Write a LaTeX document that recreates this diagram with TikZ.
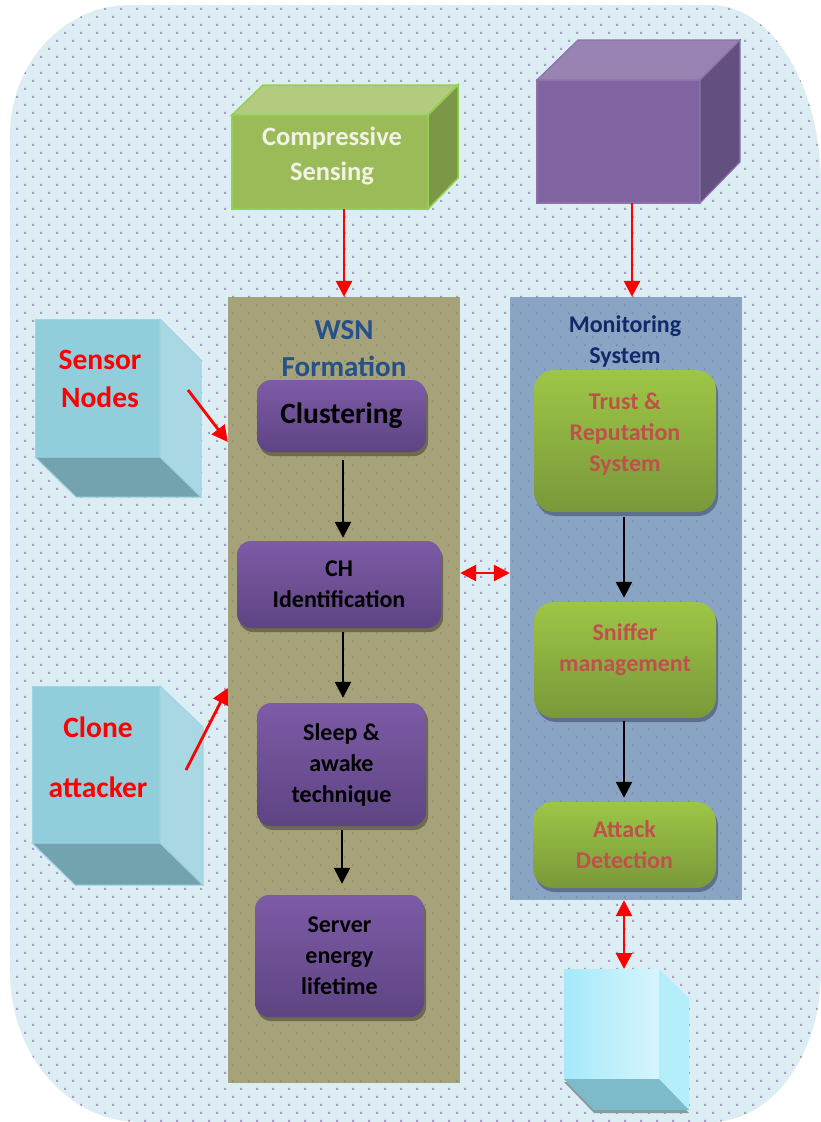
\documentclass[tikz,border=0pt]{standalone}
\usepackage{fontspec}
\setmainfont{Carlito}
\usetikzlibrary{arrows.meta,patterns,shadows}

\pgfdeclarepatternformonly{bgdots}{\pgfqpoint{-1pt}{-1pt}}{\pgfqpoint{17pt}{17pt}}{\pgfqpoint{16pt}{16pt}}{%
  \pgfpathrectangle{\pgfqpoint{0pt}{0pt}}{\pgfqpoint{2pt}{2pt}}%
  \pgfpathrectangle{\pgfqpoint{8pt}{8pt}}{\pgfqpoint{2pt}{2pt}}%
  \pgfusepath{fill}}
\pgfdeclarepatternformonly{smalldots}{\pgfqpoint{-1pt}{-1pt}}{\pgfqpoint{17pt}{17pt}}{\pgfqpoint{16pt}{16pt}}{%
  \pgfpathrectangle{\pgfqpoint{0pt}{0pt}}{\pgfqpoint{1.5pt}{1.5pt}}%
  \pgfpathrectangle{\pgfqpoint{8pt}{8pt}}{\pgfqpoint{1.5pt}{1.5pt}}%
  \pgfusepath{fill}}

\definecolor{bgc}{HTML}{DCEEF4}
\definecolor{bgdot}{HTML}{A99CC6}
\definecolor{khaki}{HTML}{A6A27A}
\definecolor{khakidot}{HTML}{8E8B68}
\definecolor{bluepanel}{HTML}{8AA5C3}
\definecolor{bluedot}{HTML}{7A88AE}
\definecolor{ptop}{HTML}{7D5BA6}
\definecolor{pbot}{HTML}{5E4483}
\definecolor{pshadow}{HTML}{6D6A4E}
\definecolor{gtop}{HTML}{9DC646}
\definecolor{gbot}{HTML}{7A983A}
\definecolor{gshadow}{HTML}{5C6F8E}
\definecolor{gtext}{HTML}{C0504D}
\definecolor{wsnblue}{HTML}{25508A}
\definecolor{monblue}{HTML}{0F2A68}
\definecolor{csfront}{HTML}{9BBB59}
\definecolor{cstop}{HTML}{B2CB7F}
\definecolor{csside}{HTML}{7D9748}
\definecolor{csedge}{HTML}{92D050}
\definecolor{cstext}{HTML}{F2F2E6}
\definecolor{pcfront}{HTML}{8064A2}
\definecolor{pctop}{HTML}{9983B3}
\definecolor{pcside}{HTML}{64507F}
\definecolor{pcedge}{HTML}{8B72AC}
\definecolor{snfront}{HTML}{92CDDC}
\definecolor{snside}{HTML}{A9D7E3}
\definecolor{snbot}{HTML}{72A3AF}
\definecolor{snedge}{HTML}{A0D4E2}
\definecolor{bcleft}{HTML}{A6E9FA}
\definecolor{bcright}{HTML}{D6F5FC}
\definecolor{bcside}{HTML}{B4EEFB}
\definecolor{bcbot}{HTML}{7EBBCA}
\definecolor{bcshadow}{HTML}{8A9A9E}
\definecolor{arrred}{HTML}{FF0000}

\tikzset{
  panelbox/.style={draw=none, inner sep=0pt},
  purplebox/.style={rounded corners=14pt, top color=ptop, bottom color=pbot, draw=none,
    inner sep=0pt, align=center, text=black,
    font=\bfseries\fontsize{24}{31}\selectfont,
    general shadow={fill=pshadow, shadow xshift=2pt, shadow yshift=-4pt}},
  greenbox/.style={rounded corners=20pt, top color=gtop, bottom color=gbot, draw=none,
    inner sep=0pt, align=center, text=gtext,
    font=\bfseries\fontsize{24}{31}\selectfont,
    general shadow={fill=gshadow, shadow xshift=2pt, shadow yshift=-4pt}},
  greentext/.style={align=center, text=gtext, inner sep=0pt,
    font=\bfseries\fontsize{24}{31}\selectfont},
  cubetext/.style={align=center, inner sep=0pt},
  blackarrow/.style={-{Triangle[width=16pt,length=16pt]}, line width=2.4pt, black},
  redarrow/.style={-{Triangle[width=16pt,length=16pt]}, line width=2.8pt, arrred},
  reddouble/.style={{Triangle[width=16pt,length=16pt]}-{Triangle[width=16pt,length=16pt]}, line width=2.8pt, arrred},
}

\begin{document}
\begin{tikzpicture}[x=1pt,y=-1pt]
\useasboundingbox (0,0) rectangle (821,1122);

% background
\path[preaction={fill=bgc}, pattern=bgdots, pattern color=bgdot]
  (10,135) arc[start angle=180, end angle=270, x radius=120, y radius=130]
  -- (711,5) arc[start angle=270, end angle=360, x radius=110, y radius=180]
  -- (821,972) arc[start angle=0, end angle=90, x radius=110, y radius=150]
  -- (140,1122) arc[start angle=90, end angle=180, x radius=130, y radius=150]
  -- cycle;

% panels
\node[panelbox, preaction={fill=khaki}, pattern=smalldots, pattern color=khakidot,
      minimum width=232pt, minimum height=786pt] (wsn) at (344,690) {};
\node[panelbox, preaction={fill=bluepanel}, pattern=smalldots, pattern color=bluedot,
      minimum width=232pt, minimum height=603pt] (mon) at (626,598.5) {};

\node[cubetext, text=wsnblue, font=\bfseries\fontsize{29}{37}\selectfont] (wsnt) at (344,349) {WSN\\Formation};
\node[cubetext, text=monblue, font=\bfseries\fontsize{24}{31}\selectfont] (mont) at (625,341.5) {Monitoring\\System};

% Compressive sensing cube
\filldraw[fill=csfront, draw=csedge, line width=1.5pt] (232,115) -- (428,115) -- (428,209) -- (232,209) -- cycle;
\filldraw[fill=cstop, draw=csedge, line width=1.5pt] (232,115) -- (263,85) -- (458,85) -- (428,115) -- cycle;
\filldraw[fill=csside, draw=csedge, line width=1.5pt] (428,115) -- (458,85) -- (458,178) -- (428,209) -- cycle;
\node[cubetext, text=cstext, font=\bfseries\fontsize{26.5}{35}\selectfont] (cst) at (332,156) {Compressive\\Sensing};
\coordinate (csb) at (344,209);

% purple cube
\filldraw[fill=pcfront, draw=pcedge, line width=1.2pt] (537,80) -- (700,80) -- (700,203) -- (537,203) -- cycle;
\filldraw[fill=pctop, draw=pcedge, line width=1.2pt] (537,80) -- (578,40) -- (740,40) -- (700,80) -- cycle;
\filldraw[fill=pcside, draw=pcedge, line width=1.2pt] (700,80) -- (740,40) -- (740,162) -- (700,203) -- cycle;
\coordinate (pcb) at (632,203);

% sensor nodes cube
\filldraw[fill=snfront, draw=snedge, line width=1pt] (35,319) -- (160,319) -- (160,457) -- (35,457) -- cycle;
\filldraw[fill=snside, draw=snedge, line width=1pt] (160,319) -- (201,360) -- (201,497) -- (160,457) -- cycle;
\filldraw[fill=snbot, draw=snedge, line width=1pt] (35,457) -- (160,457) -- (201,497) -- (76,497) -- cycle;
\node[cubetext, text=arrred, font=\bfseries\fontsize{29.5}{38}\selectfont] (snt) at (100,379) {Sensor\\Nodes};

% clone attacker cube
\filldraw[fill=snfront, draw=snedge, line width=1pt] (32,686) -- (160,686) -- (160,843) -- (32,843) -- cycle;
\filldraw[fill=snside, draw=snedge, line width=1pt] (160,686) -- (203,727) -- (203,885) -- (160,843) -- cycle;
\filldraw[fill=snbot, draw=snedge, line width=1pt] (32,843) -- (160,843) -- (203,885) -- (75,885) -- cycle;
\node[cubetext, text=arrred, font=\bfseries\fontsize{29.5}{60}\selectfont] (cat) at (98,757) {Clone\\attacker};

% bottom cube
\fill[bcshadow] (564,1082) -- (659,1082) -- (689,1113) -- (594,1113) -- cycle;
\shade[left color=bcleft, right color=bcright] (564,969) rectangle (659,1079);
\fill[bcside] (659,969) -- (689,998) -- (689,1110) -- (659,1079) -- cycle;
\fill[bcbot] (564,1079) -- (659,1079) -- (689,1110) -- (594,1110) -- cycle;
\coordinate (bct) at (624,969);

% WSN boxes
\node[purplebox, minimum width=169pt, minimum height=72pt,
      font=\bfseries\fontsize{29.5}{34}\selectfont] (clus) at (341.5,416) {Clustering};
\node[purplebox, minimum width=204pt, minimum height=87pt] (ch) at (339,584.5) {CH\\Identification};
\node[purplebox, minimum width=169pt, minimum height=123pt] (sleep) at (341.5,764.5) {Sleep \&\\awake\\technique};
\node[purplebox, minimum width=169pt, minimum height=122pt] (server) at (339.5,956) {Server\\energy\\lifetime};

% monitoring boxes
\node[greenbox, minimum width=182pt, minimum height=142pt,
      label={[greentext, yshift=7pt]center:{Trust \&\\Reputation\\System}}] (trust) at (625,441) {};
\node[greenbox, minimum width=182pt, minimum height=116pt,
      label={[greentext, yshift=10.5pt]center:{Sniffer\\management}}] (sniff) at (625,660) {};
\node[greenbox, minimum width=183pt, minimum height=86pt] (attack) at (624.5,845) {Attack\\Detection};

% black arrows
\draw[blackarrow] ([xshift=1.5pt,yshift=-8pt]clus.south) -- ([xshift=4pt,yshift=3pt]ch.north);
\draw[blackarrow] ([xshift=4pt,yshift=-4pt]ch.south) -- ([xshift=1.5pt,yshift=5pt]sleep.north);
\draw[blackarrow] ([xshift=0.5pt,yshift=-4pt]sleep.south) -- ([xshift=2.5pt,yshift=11pt]server.north);
\draw[blackarrow] ([xshift=-1pt,yshift=-5pt]trust.south) -- ([xshift=-1pt,yshift=4pt]sniff.north);
\draw[blackarrow] ([xshift=-1pt,yshift=-3pt]sniff.south) -- ([xshift=-0.5pt,yshift=4pt]attack.north);

% red arrows
\draw[redarrow] (csb) -- (csb |- wsn.north);
\draw[redarrow] (pcb) -- (pcb |- mon.north);
\coordinate (snA) at (188,390);
\coordinate (snE) at (0,442);
\draw[redarrow] (snA) -- (wsn.west |- snE);
\coordinate (caA) at (186,770);
\coordinate (caE) at (0,688);
\draw[redarrow] (caA) -- (wsn.west |- caE);
\coordinate (dblY) at (0,573);
\draw[reddouble] (wsn.east |- dblY) -- (mon.west |- dblY);
\draw[reddouble] (bct |- mon.south) -- (bct);
\end{tikzpicture}
\end{document}
